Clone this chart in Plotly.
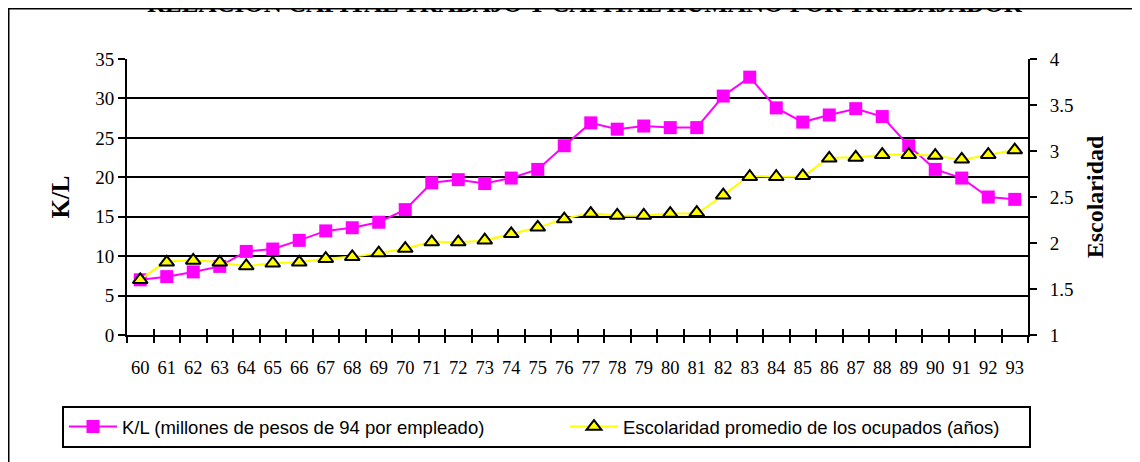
import plotly.graph_objects as go

# categories (years) and series
years = [str(y) for y in range(60, 94)]
kl = [7.0, 7.4, 8.0, 8.7, 10.6, 10.9, 12.0, 13.2, 13.6, 14.3, 15.9, 19.3,
      19.7, 19.2, 19.9, 21.0, 24.0, 26.9, 26.1, 26.5, 26.3, 26.3, 30.3, 32.7,
      28.8, 27.0, 27.9, 28.7, 27.7, 24.0, 21.0, 19.9, 17.5, 17.2]
escolaridad = [1.60, 1.79, 1.81, 1.79, 1.75, 1.78, 1.79, 1.83, 1.85, 1.89,
               1.94, 2.01, 2.01, 2.03, 2.10, 2.17, 2.26, 2.32, 2.30, 2.30,
               2.32, 2.33, 2.52, 2.72, 2.72, 2.73, 2.92, 2.93, 2.96, 2.96,
               2.95, 2.91, 2.96, 3.01]

W, H = 1140, 462
OFF = 8  # page body margin shifts the figure by 8px
L, T = 127 - OFF, 59 - OFF
R = W - (1028 - OFF)
B = H - (335 - OFF)
pw, ph = W - L - R, H - T - B


# screen pixel -> paper coords
def px(x):
    return (x - OFF - L) / pw


def py(y):
    return (H - B - (y - OFF)) / ph


serif = "Liberation Serif, Times New Roman, serif"
sans = "Liberation Sans, Arial, sans-serif"

fig = go.Figure()

fig.add_trace(go.Scatter(
    x=years, y=kl,
    mode='lines+markers',
    name='K/L (millones de pesos de 94 por empleado)',
    line=dict(color='#FF00FF', width=2),
    marker=dict(symbol='square', size=13, color='#FF00FF'),
    xaxis='x', yaxis='y', legend='legend',
))

fig.add_trace(go.Scatter(
    x=years, y=escolaridad,
    mode='lines+markers',
    name='Escolaridad promedio de los ocupados (años)',
    line=dict(color='#FFFF00', width=2, shape='spline', smoothing=0.6),
    marker=dict(symbol='triangle-up', size=13, color='#FFFF00',
                line=dict(color='black', width=2)),
    xaxis='x2', yaxis='y2', legend='legend2',
))

leg_font = dict(family=sans, size=18.5, color='black')

fig.update_layout(
    width=W, height=H,
    margin=dict(l=L, r=R, t=T, b=B, autoexpand=False),
    paper_bgcolor='white',
    plot_bgcolor='white',
    font=dict(family=serif, size=19, color='black'),
    showlegend=True,
    xaxis=dict(
        type='category', range=[-0.5, 33.5], automargin=False,
        tickson='boundaries', ticks='outside', ticklen=6, tickwidth=2,
        tickcolor='black', showline=True, linecolor='black', linewidth=2,
        showgrid=False, ticklabelstandoff=15, tickangle=0,
        tickfont=dict(family=serif, size=18.5),
    ),
    xaxis2=dict(
        type='category', range=[-0.5, 33.5], overlaying='x',
        tickson='boundaries', ticks='inside', ticklen=6, tickwidth=2,
        tickcolor='black', showticklabels=False, showgrid=False,
        showline=False, anchor='y', automargin=False,
    ),
    yaxis=dict(
        range=[0, 35], dtick=5, ticks='outside', ticklen=7, tickwidth=2,
        tickcolor='black', showline=True, linecolor='black', linewidth=2,
        showgrid=True, gridcolor='black', gridwidth=2, zeroline=False,
        tickfont=dict(family=serif, size=19), automargin=False,
        title=dict(text='<b>K/L</b>', font=dict(family=serif, size=25),
                   standoff=18),
    ),
    yaxis2=dict(
        range=[1, 4], dtick=0.5, overlaying='y', side='right', anchor='x',
        ticks='outside', ticklen=7, tickwidth=2, tickcolor='black',
        showline=True, linecolor='black', linewidth=2, showgrid=False,
        zeroline=False, ticklabelstandoff=9, automargin=False,
        tickfont=dict(family=serif, size=19),
        title=dict(text='<b>Escolaridad</b>', font=dict(family=serif, size=24),
                   standoff=14),
    ),
    yaxis3=dict(
        range=[1, 4], dtick=0.5, overlaying='y', side='right', anchor='x',
        ticks='inside', ticklen=7, tickwidth=2, tickcolor='black',
        showticklabels=False, showgrid=False, zeroline=False, showline=False,
        automargin=False,
    ),
    legend=dict(
        orientation='h', x=px(64), y=py(427), xanchor='left', yanchor='middle',
        borderwidth=0, bgcolor='rgba(0,0,0,0)', font=leg_font, itemwidth=48,
    ),
    legend2=dict(
        orientation='h', x=px(565), y=py(427), xanchor='left', yanchor='middle',
        borderwidth=0, bgcolor='rgba(0,0,0,0)', font=leg_font, itemwidth=48,
    ),
)

# title (mostly cut by the top edge), legend frame and outer frame
fig.add_annotation(
    text='<b>RELACION CAPITAL TRABAJO Y CAPITAL HUMANO POR TRABAJADOR</b>',
    xref='paper', yref='paper', x=px(585), y=py(19),
    xanchor='center', yanchor='bottom', showarrow=False,
    font=dict(family=serif, size=25, color='black'),
)
fig.add_shape(
    type='rect', xref='paper', yref='paper',
    x0=px(63), x1=px(1030), y0=py(447), y1=py(407),
    line=dict(color='black', width=2), fillcolor='white', layer='below',
)
fig.add_shape(
    type='rect', xref='paper', yref='paper',
    x0=px(8.5), x1=px(1170), y0=py(490), y1=py(8.5),
    line=dict(color='black', width=2), layer='below',
)

fig.write_html("out.html")
